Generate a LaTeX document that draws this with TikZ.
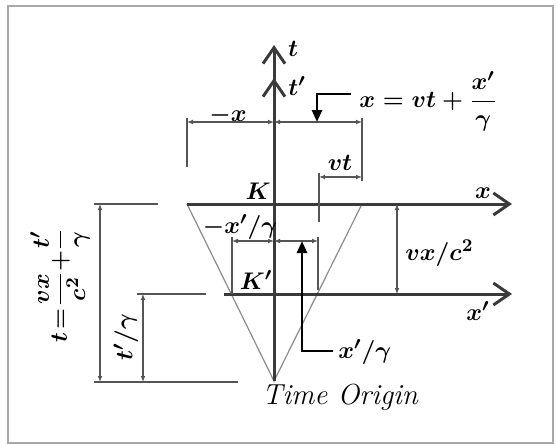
\documentclass[tikz,border=0pt]{standalone}
\usepackage{amsmath,amssymb}
\usepackage{xcolor}
\usepackage{tikz}
\usetikzlibrary{arrows.meta,calc}
\definecolor{axisgray}{HTML}{3A3A3A}
\definecolor{dimgray}{HTML}{555555}
\definecolor{conegray}{HTML}{8A8A8A}
\definecolor{framegray}{HTML}{A8A8A8}
\newcommand{\tightmath}{\thickmuskip=2.5mu\relax\medmuskip=1.5mu\relax\nulldelimiterspace=0pt\relax}
\tikzset{
  axis/.style={
    draw=axisgray,
    line width=1.5pt,
    -{Straight Barb[length=8pt,width=11pt,line width=1.5pt]}
  },
  dimline/.style={
    draw=dimgray,
    line width=0.55pt,
    {Latex[length=3pt,width=2.4pt]}-{Latex[length=3pt,width=2.4pt]}
  },
  extline/.style={
    draw=dimgray,
    line width=0.55pt
  },
  cone/.style={
    draw=conegray,
    line width=0.6pt
  },
  leader/.style={
    draw=black,
    line width=1.2pt,
    -{Triangle[length=6pt,width=5pt]}
  },
  lbl/.style={
    inner sep=0pt,
    font=\fontsize{13}{15}\selectfont\boldmath
  },
  txt/.style={
    inner sep=0pt,
    font=\fontsize{14.5}{17}\selectfont\itshape
  }
}
\begin{document}
\begin{tikzpicture}[x=0.5pt,y=-0.5pt]
    \useasboundingbox (0,0) rectangle (558,445);
    \draw[framegray, line width=0.8pt] (8,6) rectangle (553,443);
    % axes and cone
    \coordinate (O) at (274,381);
    \coordinate (ttop) at (274,45);
    \coordinate (tptop) at (274,78);
    \coordinate (xl) at (187,204);
    \coordinate (xr) at (512,204);
    \coordinate (xpl) at (224,294);
    \coordinate (xpr) at (512,294);
    \coordinate (cr) at (362,204);
    \draw[cone] (xl) -- (O) -- (cr);
    \draw[axis] (xl) -- (xr);
    \draw[axis] (xpl) -- (xpr);
    \draw[axis] (O) -- (ttop);
    \draw[axis] (O) -- (tptop);
    % -x and x
    \coordinate (dxl) at (187,122);
    \coordinate (dxm) at (274,122);
    \coordinate (dxr) at (362,122);
    \draw[extline] (187,118) -- (187,167);
    \draw[extline] (362,118) -- (362,181);
    \draw[dimline] (dxl) -- (dxm);
    \draw[dimline] (dxm) -- (dxr);
    % vt
    \coordinate (dvl) at (319,177);
    \coordinate (dvr) at (362,177);
    \draw[extline] (319,173) -- (319,222);
    \draw[dimline] (dvl) -- (dvr);
    % -x'/gamma and x'/gamma
    \coordinate (dgl) at (232,241);
    \coordinate (dgm) at (274,241);
    \coordinate (dgr) at (318,241);
    \draw[extline] (232,237) -- (232,294);
    \draw[extline] (318,237) -- (318,290);
    \draw[dimline] (dgl) -- (dgm);
    \draw[dimline] (dgm) -- (dgr);
    % vx/c^2
    \coordinate (dcu) at (397,204);
    \coordinate (dcd) at (397,294);
    \draw[dimline] (dcu) -- (dcd);
    % left side
    \coordinate (dtu) at (100,204);
    \coordinate (dtd) at (100,382);
    \coordinate (dsu) at (143,294);
    \coordinate (dsd) at (143,382);
    \draw[extline] (94,204) -- (158,204);
    \draw[extline] (94,382) -- (238,382);
    \draw[extline] (137,294) -- (206,294);
    \draw[dimline] (dtu) -- (dtd);
    \draw[dimline] (dsu) -- (dsd);
    % leaders
    \coordinate (la) at (351,94);
    \coordinate (lb) at (333,351);
    \draw[leader] (la) -- (317,94) -- (317,122);
    \draw[leader] (lb) -- (302,351) -- (302,241);
    % labels
    \node[lbl] (lt) at (293,49) {$t$};
    \node[lbl] (ltp) at (297,86) {$t'$};
    \node[lbl] (lmx) at (228,115) {$-x$};
    \node[lbl, anchor=west] (lx) at (359,101) {$x=vt+\dfrac{x'}{\gamma}$};
    \node[lbl] (lvt) at (340,163) {$vt$};
    \node[lbl] (lk) at (258,191) {$K$};
    \node[lbl] (lkp) at (256,280) {$K'$};
    \node[lbl] (lxa) at (483,193) {$x$};
    \node[lbl] (lxpa) at (478,311) {$x'$};
    \node[lbl] (lmg) at (240,227) {$-x'/\gamma$};
    \node[lbl, anchor=west] (lg) at (338,352) {$x'/\gamma$};
    \node[lbl, anchor=west] (lc) at (405,253) {$vx/c^2$};
    \node[lbl, rotate=90] (ltot) at (60,287) {$\tightmath t=\dfrac{vx}{c^2}+\dfrac{t'}{\gamma}$};
    \node[lbl, rotate=90] (ltg) at (126,337) {$t'/\gamma$};
    \node[txt] (orig) at (340,397) {Time Origin};
\end{tikzpicture}
\end{document}
